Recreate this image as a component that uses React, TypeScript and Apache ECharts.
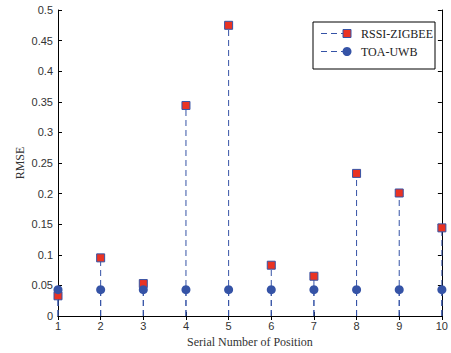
import React, { useEffect, useRef } from "react";
import * as echarts from "echarts";

const positions = [1, 2, 3, 4, 5, 6, 7, 8, 9, 10];
const rssiZigbee = [0.033, 0.095, 0.053, 0.344, 0.475, 0.083, 0.065, 0.233, 0.201, 0.144];
const toaUwb = [0.043, 0.043, 0.043, 0.043, 0.043, 0.043, 0.043, 0.043, 0.043, 0.043];
const seriesNames = ["RSSI-ZIGBEE", "TOA-UWB"];

const BLUE = "#3553a6";
const RED = "#ea3323";
const SANS = "'Liberation Sans', Arial, sans-serif";
const SERIF = "'Liberation Serif', 'Times New Roman', serif";

function stemSeries(values: number[]) {
  return {
    type: "custom",
    data: positions.map((p, i) => [p, values[i]]),
    clip: false,
    silent: true,
    z: 2,
    renderItem: (_params: any, api: any) => {
      const p0 = api.coord([api.value(0), 0]);
      const p1 = api.coord([api.value(0), api.value(1)]);
      return {
        type: "line",
        shape: { x1: p0[0], y1: p0[1], x2: p1[0], y2: p1[1] },
        style: { stroke: BLUE, lineWidth: 1, lineDash: [6, 4] },
      };
    },
  };
}

export default function App() {
  const ref = useRef<HTMLDivElement>(null);
  useEffect(() => {
    if (!ref.current) return;
    const chart = echarts.init(ref.current, null, { renderer: "svg" });
    const axisLine = { show: true, lineStyle: { color: "#000", width: 1 } };
    const axisTick = { show: true, inside: true, length: 4, lineStyle: { color: "#000" } };
    const lx = 313, ly = 22;
    chart.setOption({
      animation: false,
      backgroundColor: "#fff",
      grid: { left: 58, right: 3, top: 10, bottom: 36 },
      xAxis: [
        {
          type: "value",
          min: 1,
          max: 10,
          interval: 1,
          axisLine,
          axisTick,
          splitLine: { show: false },
          axisLabel: { color: "#333", fontFamily: SANS, fontSize: 11, margin: 4 },
          name: "Serial Number of Position",
          nameLocation: "middle",
          nameGap: 20,
          nameMoveOverlap: false,
          nameTextStyle: { color: "#333", fontFamily: SERIF, fontSize: 12 },
        },
        {
          type: "value",
          position: "top",
          min: 1,
          max: 10,
          interval: 1,
          axisLine,
          axisTick,
          splitLine: { show: false },
          axisLabel: { show: false },
        },
      ],
      yAxis: [
        {
          type: "value",
          min: 0,
          max: 0.5,
          interval: 0.05,
          axisLine,
          axisTick,
          splitLine: { show: false },
          axisLabel: { color: "#333", fontFamily: SANS, fontSize: 11, margin: 5 },
          name: "RMSE",
          nameLocation: "middle",
          nameRotate: 90,
          nameGap: 32,
          nameMoveOverlap: false,
          nameTextStyle: { color: "#333", fontFamily: SERIF, fontSize: 12 },
        },
        {
          type: "value",
          position: "right",
          min: 0,
          max: 0.5,
          interval: 0.05,
          axisLine,
          axisTick,
          splitLine: { show: false },
          axisLabel: { show: false },
        },
      ],
      series: [
        stemSeries(rssiZigbee),
        stemSeries(toaUwb),
        {
          name: seriesNames[0],
          type: "scatter",
          data: positions.map((p, i) => [p, rssiZigbee[i]]),
          symbol: "rect",
          symbolSize: 8,
          clip: false,
          z: 3,
          itemStyle: { color: RED, borderColor: BLUE, borderWidth: 1, opacity: 1 },
        },
        {
          name: seriesNames[1],
          type: "scatter",
          data: positions.map((p, i) => [p, toaUwb[i]]),
          symbol: "circle",
          symbolSize: 9,
          clip: false,
          z: 4,
          itemStyle: { color: BLUE, opacity: 1 },
        },
      ],
      graphic: [
        {
          type: "rect",
          shape: { x: lx, y: ly, width: 122, height: 47 },
          style: { fill: "#fff", stroke: "#000", lineWidth: 1 },
          z: 10,
        },
        ...seriesNames.flatMap((name, i) => {
          const cy = ly + 11.5 + i * 18;
          return [
            {
              type: "line",
              shape: { x1: lx + 8, y1: cy, x2: lx + 34, y2: cy },
              style: { stroke: BLUE, lineWidth: 1, lineDash: [6, 4] },
              z: 11,
            },
            i === 0
              ? {
                  type: "rect",
                  shape: { x: lx + 30, y: cy - 4, width: 8, height: 8 },
                  style: { fill: RED, stroke: BLUE, lineWidth: 1 },
                  z: 12,
                }
              : {
                  type: "circle",
                  shape: { cx: lx + 34, cy, r: 4.5 },
                  style: { fill: BLUE },
                  z: 12,
                },
            {
              type: "text",
              x: lx + 48,
              y: cy,
              style: {
                text: name,
                fill: "#222",
                fontFamily: SERIF,
                fontSize: 12,
                verticalAlign: "middle",
              },
              z: 12,
            },
          ];
        }),
      ],
    });
    return () => chart.dispose();
  }, []);
  return (
    <div
      ref={ref}
      style={{ position: "absolute", left: 0, top: 0, width: 451, height: 353 }}
    />
  );
}
